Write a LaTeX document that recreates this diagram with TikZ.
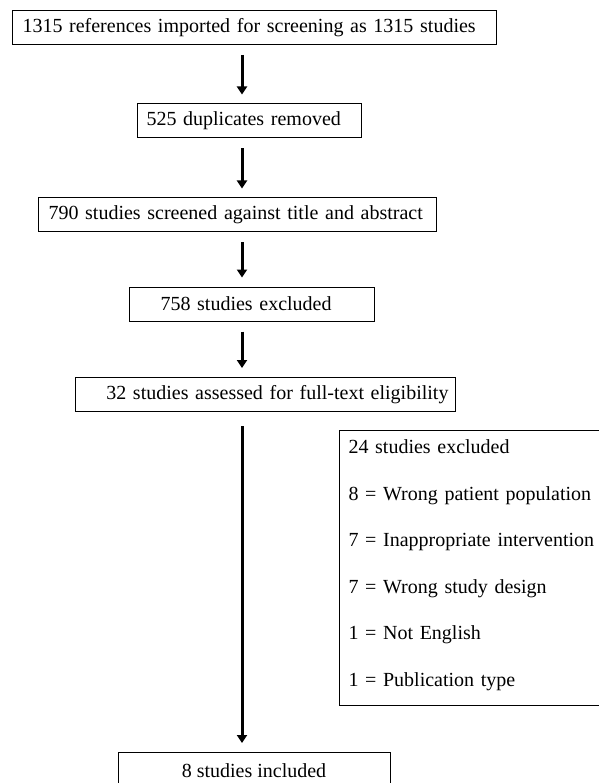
\documentclass[tikz,border=0pt]{standalone}
\usepackage{fontspec}
\setmainfont{Liberation Serif}
\usetikzlibrary{arrows.meta}

\begin{document}
\begin{tikzpicture}[x=1pt,y=-1pt,
    flow/.style={line width=3pt,-{Triangle[width=10pt,length=8pt]},shorten <=10pt,shorten >=9pt},
    box/.style={draw,line width=1pt,anchor=west,align=left,minimum height=34pt,font=\fontsize{20}{24}\selectfont}]
    \useasboundingbox (0,0) rectangle (598,783);
    \coordinate (spine) at (242,0);
    \node[box,inner xsep=10pt,text width=464pt] (imported) at (12,27.5) {1315 references imported for screening as 1315 studies};
    \node[box,inner xsep=9pt,text width=206pt] (dupl) at (137,121) {525 duplicates removed};
    \node[box,inner xsep=10pt,text width=378pt] (screened) at (38,215) {790 studies screened against title and abstract};
    \node[box,inner xsep=31pt,text width=183pt] (excl1) at (129,304) {758 studies excluded};
    \node[box,inner xsep=7pt,text width=366pt,align=right] (assessed) at (75,394.5) {32 studies assessed for full-text eligibility};
    \node[box,anchor=north west,inner xsep=9pt,text width=262pt,minimum height=275pt,font=\fontsize{20}{46.6}\selectfont] (excl2) at (339,430)
        {24 studies excluded\\8 = Wrong patient population\\7 = Inappropriate intervention\\7 = Wrong study design\\1 = Not English\\1 = Publication type\rule[-10pt]{0pt}{0pt}};
    \node[box,anchor=north,align=center,minimum width=272pt,minimum height=36pt] (included) at (254,752) {8 studies included};
    \draw[flow] (imported.south -| spine) -- (dupl.north -| spine);
    \draw[flow] (dupl.south -| spine) -- (screened.north -| spine);
    \draw[flow] (screened.south -| spine) -- (excl1.north -| spine);
    \draw[flow] (excl1.south -| spine) -- (assessed.north -| spine);
    \draw[flow,shorten <=14pt] (assessed.south -| spine) -- (included.north -| spine);
\end{tikzpicture}
\end{document}
